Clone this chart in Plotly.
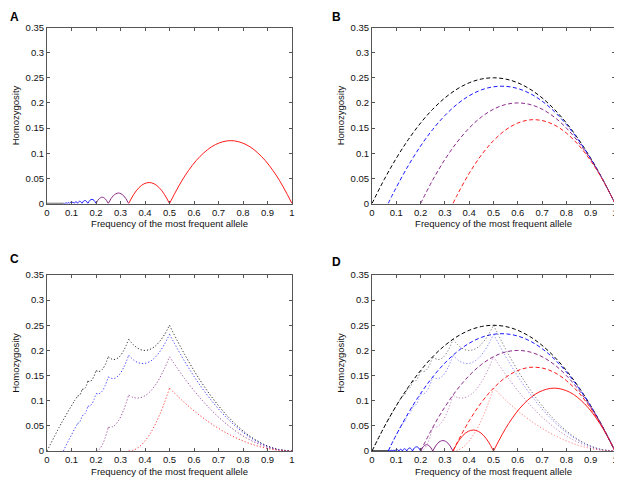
import plotly.graph_objects as go

# ---------------- data ----------------
x_tick_vals = [0, 0.1, 0.2, 0.3, 0.4, 0.5, 0.6, 0.7, 0.8, 0.9, 1.0]
x_tick_text = ["0", "0.1", "0.2", "0.3", "0.4", "0.5", "0.6", "0.7", "0.8", "0.9", "1"]
y_tick_vals = [0, 0.05, 0.1, 0.15, 0.2, 0.25, 0.3, 0.35]
y_tick_text = ["0", "0.05", "0.1", "0.15", "0.2", "0.25", "0.3", "0.35"]

x_title = "Frequency of the most frequent allele"
y_title = "Homozygosity"
panel_labels = ["A", "B", "C", "D"]

# Panel A: solid arcs between 1/(k+1) and 1/k
A_arc_x = [
    [0.5, 0.5625, 0.625, 0.6875, 0.75, 0.8125, 0.875, 0.9375, 1.0],
    [0.3333, 0.3542, 0.375, 0.3958, 0.4167, 0.4375, 0.4583, 0.4792, 0.5],
    [0.25, 0.2708, 0.2917, 0.3125, 0.3333],
    [0.2, 0.2125, 0.225, 0.2375, 0.25],
    [0.1667, 0.175, 0.1833, 0.1917, 0.2],
    [0.1429, 0.1488, 0.1548, 0.1607, 0.1667],
    [0.125, 0.1295, 0.1339, 0.1384, 0.1429],
    [0.1111, 0.1146, 0.1181, 0.1215, 0.125],
    [0.1, 0.1056, 0.1111],
    [0.0909, 0.0955, 0.1],
    [0.0833, 0.0871, 0.0909],
    [0.0769, 0.0801, 0.0833],
    [0.0714, 0.0742, 0.0769],
    [0.0667, 0.069, 0.0714],
    [0.0, 0.0667],
]
A_arc_y = [
    [0, 0.0547, 0.0938, 0.1172, 0.125, 0.1172, 0.0938, 0.0547, 0],
    [0, 0.0182, 0.0313, 0.0391, 0.0417, 0.0391, 0.0313, 0.0182, 0],
    [0, 0.0156, 0.0208, 0.0156, 0],
    [0, 0.0094, 0.0125, 0.0094, 0],
    [0, 0.0063, 0.0083, 0.0063, 0],
    [0, 0.0045, 0.006, 0.0045, 0],
    [0, 0.0033, 0.0045, 0.0033, 0],
    [0, 0.0026, 0.0035, 0.0026, 0],
    [0, 0.0028, 0],
    [0, 0.0023, 0],
    [0, 0.0019, 0],
    [0, 0.0016, 0],
    [0, 0.0014, 0],
    [0, 0.0012, 0],
    [0.0003, 0.0003],
]
A_arc_group = ["red", "red", "purple", "purple", "blue", "blue", "blue", "blue",
               "blue", "blue", "blue", "blue", "blue", "blue", "black"]

# Panel B: dashed parabolas
B_groups = ["black", "blue", "purple", "red"]
B_x = [
    [0, 0.05, 0.1, 0.15, 0.2, 0.25, 0.3, 0.35, 0.4, 0.45, 0.5, 0.55, 0.6, 0.65, 0.7, 0.75, 0.8, 0.85, 0.9, 0.95, 1.0],
    [0.0667, 0.0833, 0.1, 0.15, 0.2, 0.25, 0.3, 0.35, 0.4, 0.45, 0.5, 0.55, 0.6, 0.65, 0.7, 0.75, 0.8, 0.85, 0.9, 0.95, 1.0],
    [0.2, 0.25, 0.3, 0.35, 0.4, 0.45, 0.5, 0.55, 0.6, 0.65, 0.7, 0.75, 0.8, 0.85, 0.9, 0.95, 1.0],
    [0.3333, 0.35, 0.4, 0.45, 0.5, 0.55, 0.6, 0.65, 0.7, 0.75, 0.8, 0.85, 0.9, 0.95, 1.0],
]
B_y = [
    [0, 0.0475, 0.09, 0.1275, 0.16, 0.1875, 0.21, 0.2275, 0.24, 0.2475, 0.25, 0.2475, 0.24, 0.2275, 0.21, 0.1875, 0.16, 0.1275, 0.09, 0.0475, 0],
    [0, 0.0164, 0.0321, 0.0759, 0.1143, 0.1473, 0.175, 0.1973, 0.2143, 0.2259, 0.2321, 0.233, 0.2286, 0.2188, 0.2036, 0.183, 0.1571, 0.1259, 0.0893, 0.0473, 0],
    [0, 0.0469, 0.0875, 0.1219, 0.15, 0.1719, 0.1875, 0.1969, 0.2, 0.1969, 0.1875, 0.1719, 0.15, 0.1219, 0.0875, 0.0469, 0],
    [0, 0.0163, 0.06, 0.0963, 0.125, 0.1463, 0.16, 0.1663, 0.165, 0.1563, 0.14, 0.1163, 0.085, 0.0463, 0],
]

# Panel C: dotted scalloped curves, one list of segments per curve
C_groups = ["black", "blue", "purple", "red"]
seg_k1_x = [0.5, 0.5625, 0.625, 0.6875, 0.75, 0.8125, 0.875, 0.9375, 1.0]
seg_k2_x = [0.3333, 0.3542, 0.375, 0.3958, 0.4167, 0.4375, 0.4583, 0.4792, 0.5]
seg_k3_x = [0.25, 0.2708, 0.2917, 0.3125, 0.3333]
seg_k4_x = [0.2, 0.2125, 0.225, 0.2375, 0.25]
seg_k5_x = [0.1667, 0.175, 0.1833, 0.1917, 0.2]
seg_k6_x = [0.1429, 0.1548, 0.1667]
seg_k7_x = [0.125, 0.1339, 0.1429]

C_black_x = [[0, 0.05, 0.0667, 0.0833, 0.1, 0.1111, 0.125], seg_k7_x, seg_k6_x, seg_k5_x,
             seg_k4_x, seg_k3_x, seg_k2_x, seg_k1_x]
C_black_y = [
    [0, 0.0475, 0.0622, 0.0764, 0.09, 0.0988, 0.1094],
    [0.1094, 0.1115, 0.1224],
    [0.1224, 0.1248, 0.1389],
    [0.1389, 0.1381, 0.1414, 0.1487, 0.16],
    [0.16, 0.158, 0.1619, 0.1717, 0.1875],
    [0.1875, 0.1819, 0.1858, 0.1992, 0.2222],
    [0.2222, 0.2105, 0.2031, 0.2001, 0.2014, 0.207, 0.217, 0.2313, 0.25],
    [0.25, 0.1914, 0.1406, 0.0977, 0.0625, 0.0352, 0.0156, 0.0039, 0],
]
C_blue_x = [[0.0667, 0.0714, 0.0769, 0.0833, 0.0909, 0.1, 0.1111, 0.125], seg_k7_x, seg_k6_x,
            seg_k5_x, seg_k4_x, seg_k3_x, seg_k2_x, seg_k1_x]
C_blue_y = [
    [0, 0.0047, 0.0101, 0.0164, 0.0236, 0.0321, 0.0423, 0.0547],
    [0.0547, 0.0579, 0.07],
    [0.07, 0.0738, 0.0893],
    [0.0893, 0.0895, 0.0938, 0.102, 0.1143],
    [0.1143, 0.1137, 0.119, 0.1302, 0.1473],
    [0.1473, 0.1439, 0.1499, 0.1655, 0.1905],
    [0.1905, 0.1807, 0.1752, 0.174, 0.1771, 0.1844, 0.1961, 0.212, 0.2321],
    [0.2321, 0.1777, 0.1306, 0.0907, 0.058, 0.0326, 0.0145, 0.0036, 0],
]
C_purple_x = [seg_k4_x, seg_k3_x, seg_k2_x, seg_k1_x]
C_purple_y = [
    [0, 0.0029, 0.0117, 0.0264, 0.0469],
    [0.0469, 0.0489, 0.0603, 0.0811, 0.1111],
    [0.1111, 0.1062, 0.1055, 0.1088, 0.1163, 0.1279, 0.1437, 0.1635, 0.1875],
    [0.1875, 0.1436, 0.1055, 0.0732, 0.0469, 0.0264, 0.0117, 0.0029, 0],
]
C_red_x = [seg_k2_x, seg_k1_x]
C_red_y = [
    [0, 0.002, 0.0078, 0.0176, 0.0313, 0.0488, 0.0703, 0.0957, 0.125],
    [0.125, 0.0957, 0.0703, 0.0488, 0.0313, 0.0176, 0.0078, 0.002, 0],
]
C_x = [C_black_x, C_blue_x, C_purple_x, C_red_x]
C_y = [C_black_y, C_blue_y, C_purple_y, C_red_y]

# ---------------- styling ----------------
COLORS = {"black": "#000000", "blue": "#1a1aff", "purple": "#8a2a8a", "red": "#ff1a1a"}
FONT = "Arial, 'Liberation Sans', Helvetica, sans-serif"
DASH = "4px,2.5px"
DOT = "1.2px,2px"

fig = go.Figure()


def join(segs):
    out = []
    for i, s in enumerate(segs):
        if i:
            out.append(None)
        out.extend(s)
    return out


def add_A(xa, ya):
    for xs, ys, g in zip(A_arc_x, A_arc_y, A_arc_group):
        fig.add_trace(go.Scatter(x=xs, y=ys, mode="lines", xaxis=xa, yaxis=ya,
                                 line=dict(color=COLORS[g], width=1, shape="spline"),
                                 showlegend=False, hoverinfo="skip"))


def add_B(xa, ya):
    for xs, ys, g in zip(B_x, B_y, B_groups):
        fig.add_trace(go.Scatter(x=xs, y=ys, mode="lines", xaxis=xa, yaxis=ya,
                                 line=dict(color=COLORS[g], width=1, dash=DASH, shape="spline"),
                                 showlegend=False, hoverinfo="skip"))


def add_C(xa, ya, opacity=1.0):
    for xs, ys, g in zip(C_x, C_y, C_groups):
        fig.add_trace(go.Scatter(x=join(xs), y=join(ys), mode="lines", xaxis=xa, yaxis=ya,
                                 connectgaps=False, opacity=opacity,
                                 line=dict(color=COLORS[g], width=1, dash=DOT, shape="spline"),
                                 showlegend=False, hoverinfo="skip"))


add_A("x", "y")
add_B("x2", "y2")
add_C("x3", "y3", opacity=0.85)
add_A("x4", "y4")
add_B("x4", "y4")
add_C("x4", "y4", opacity=0.55)

# page body has an 8px margin, so the figure is shifted by OFF
OFF = 8
W, H = 622 - OFF, 483 - OFF


def px_x(p):
    return (p - OFF) / W


def px_y(p):
    return 1 - (p - OFF) / H


left_dom = [px_x(47), px_x(292)]
right_dom = [px_x(372), px_x(615)]
top_dom = [px_y(203.5), px_y(27.5)]
bot_dom = [px_y(451), px_y(275)]

axis_common = dict(ticks="inside", ticklen=3, tickwidth=1, tickcolor="#555",
                   showline=True, linecolor="#555", linewidth=1, mirror="allticks",
                   showgrid=False, zeroline=False, automargin=False,
                   tickfont=dict(family=FONT, size=9.5, color="#111"))


def xax(dom, anchor):
    return dict(axis_common, domain=dom, anchor=anchor, range=[0, 1],
                tickmode="array", tickvals=x_tick_vals, ticktext=x_tick_text,
                title=dict(text=x_title, font=dict(family=FONT, size=9.5, color="#111"), standoff=3))


def yax(dom, anchor):
    return dict(axis_common, domain=dom, anchor=anchor, range=[0, 0.35],
                tickmode="array", tickvals=y_tick_vals, ticktext=y_tick_text,
                title=dict(text=y_title, font=dict(family=FONT, size=9.5, color="#111"), standoff=4))


fig.update_layout(
    width=W, height=H,
    margin=dict(l=0, r=0, t=0, b=0),
    paper_bgcolor="white", plot_bgcolor="white",
    xaxis=xax(left_dom, "y"), yaxis=yax(top_dom, "x"),
    xaxis2=xax(right_dom, "y2"), yaxis2=yax(top_dom, "x2"),
    xaxis3=xax(left_dom, "y3"), yaxis3=yax(bot_dom, "x3"),
    xaxis4=xax(right_dom, "y4"), yaxis4=yax(bot_dom, "x4"),
)

# panel letters: (left x, top y) in page pixels
label_pos = [(9, 8.5), (330.5, 8.5), (9, 251), (330.5, 253.5)]
for lab, (lx, ly) in zip(panel_labels, label_pos):
    fig.add_annotation(text="<b>%s</b>" % lab, x=px_x(lx), y=px_y(ly), xref="paper", yref="paper",
                       xanchor="left", yanchor="top", showarrow=False, borderpad=0,
                       font=dict(family=FONT, size=12, color="#000"))

fig.write_html("out.html")
